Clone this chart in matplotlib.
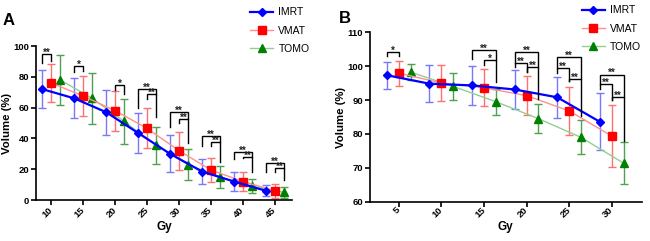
import matplotlib
matplotlib.use("Agg")
import matplotlib.pyplot as plt
import numpy as np

plt.rcParams['font.family'] = ['Liberation Sans', 'DejaVu Sans']

# Panel A data
dose_a = [10, 15, 20, 25, 30, 35, 40, 45]
imrt_a = [72, 66, 57, 43.5, 30, 18.5, 12, 6]
imrt_a_sd = [12.5, 13, 14.5, 13, 12, 8.3, 6, 3.7]
vmat_a = [76, 67.5, 58, 46.5, 32, 19.5, 12, 6]
vmat_a_sd = [12.3, 13, 13, 13, 12.5, 8, 6, 4.5]
tomo_a = [78, 66, 51, 35.5, 23, 15, 9, 5]
tomo_a_sd = [16, 16.5, 14.5, 12, 10, 7, 4.7, 3.5]

# Panel B data
dose_b = [5, 10, 15, 20, 25, 30]
imrt_b = [97.3, 94.8, 94.3, 93.1, 90.8, 83.6]
imrt_b_sd = [4, 5.5, 5.7, 5.8, 6, 8.4]
vmat_b = [97.9, 95, 93.6, 91.3, 86.8, 79.4]
vmat_b_sd = [3.7, 5.3, 5.5, 5.8, 7.1, 9]
tomo_b = [98.2, 94, 89.5, 84.5, 79, 71.4]
tomo_b_sd = [2.3, 4, 3.8, 4.3, 5, 6.2]

# significance: (dose, group1, group2, top, leg1 end, leg2 end, label)  groups 0=IMRT 1=VMAT 2=TOMO
sig_a = [(10, 0, 1, 94.6, 89, 90, '**'), (15, 0, 1, 87, 83.3, 84, '*'),
         (20, 1, 2, 74.7, 71.4, 68.8, '*'),
         (25, 0, 2, 71.9, 59.5, 68.6, '**'), (25, 1, 2, 68.6, 65.4, 53.7, '**'),
         (30, 0, 2, 57.3, 47.6, 52.6, '**'), (30, 1, 2, 52.6, 50.2, 36.8, '**'),
         (35, 0, 2, 41.6, 35.3, 37.9, '**'), (35, 1, 2, 37.9, 35.3, 24.9, '**'),
         (40, 0, 2, 31.4, 26.4, 28.1, '**'), (40, 1, 2, 28.1, 27.1, 18.4, '**'),
         (45, 0, 2, 24.2, 18.4, 21, '**'), (45, 1, 2, 21, 18.4, 13, '**')]
sig_b = [(5, 0, 1, 104.1, 102.9, 102.9, '*'),
         (15, 0, 2, 104.6, 102, 101.7, '**'), (15, 1, 2, 101.7, 100.2, 95.3, '*'),
         (20, 0, 2, 104.1, 101, 99.7, '**'), (20, 0, 1, 101, 99.6, 98.2, '**'),
         (20, 1, 2, 99.7, 98.2, 90.4, '**'),
         (25, 0, 2, 102.6, 99.5, 96.3, '**'), (25, 0, 1, 99.5, 98, 95.5, '**'),
         (25, 1, 2, 96.3, 95.5, 85.2, '**'),
         (30, 0, 2, 97.5, 94.8, 90.9, '**'), (30, 0, 1, 94.8, 93.3, 89.9, '**'),
         (30, 1, 2, 90.9, 89.9, 78, '**')]

off = [-1.4, 0, 1.4]
names = ['IMRT', 'VMAT', 'TOMO']
mk = ['D', 's', '^']
mcol = ['#0000ff', '#ff0000', '#008000']
lcol = ['#0000ff', '#ff9090', '#90d090']
ecol = ['#7878ff', '#ff7070', '#50a050']
lw = [1.6, 1.0, 1.0]
ms = [4.5, 5.5, 5.5]

fig = plt.figure(figsize=(6.5, 2.41), dpi=100)
axA = fig.add_axes([0.0554, 0.170, 0.394, 0.639])
axB = fig.add_axes([0.569, 0.162, 0.418, 0.705])


def panel(ax, dose, series, sds, sig, ylim, yticks, legpos):
    d = np.array(dose, dtype=float)
    handles = []
    for i in [2, 1, 0]:
        x = d + off[i]
        ax.errorbar(x, series[i], yerr=sds[i], fmt='none', ecolor=ecol[i],
                    elinewidth=1.0, capsize=2.8, capthick=1.0, zorder=2 + i * 0.1)
    for i in [2, 1, 0]:
        x = d + off[i]
        h, = ax.plot(x, series[i], color=lcol[i], lw=lw[i], zorder=3 + (2 - i),
                     marker=mk[i], ms=ms[i], mfc=mcol[i], mec=mcol[i], label=names[i])
        handles.append(h)
    for (g, a, b, top, y1, y2, lab) in sig:
        x1, x2 = g + off[a], g + off[b]
        ax.plot([x1, x1, x2, x2], [y1, top, top, y2], color='black', lw=1.0,
                zorder=6, solid_joinstyle='miter')
        ax.annotate(lab, ((x1 + x2) / 2, top), xytext=(0, -1.3),
                    textcoords='offset points', ha='center', va='baseline',
                    fontsize=7, fontweight='bold', color='#222222', zorder=7)
    ax.set_ylim(*ylim)
    ax.set_yticks(yticks)
    ax.set_xticks(dose)
    ax.set_xticklabels([str(v) for v in dose], rotation=45, ha='right',
                       va='center', rotation_mode='anchor')
    for s in ['top', 'right']:
        ax.spines[s].set_visible(False)
    for s in ['left', 'bottom']:
        ax.spines[s].set_linewidth(1.2)
    ax.tick_params(direction='out', length=3.5, width=1.2, labelsize=6.8, pad=1.5)
    for t in ax.get_xticklabels() + ax.get_yticklabels():
        t.set_fontweight('bold')
    ax.set_xlabel('Gy', fontsize=8.5, fontweight='bold', labelpad=1)
    ax.set_ylabel('Volume (%)', fontsize=8.2, fontweight='bold', labelpad=1)
    hs = handles[::-1]
    ax.legend(hs, names, loc='upper left', bbox_to_anchor=legpos,
              bbox_transform=fig.transFigure, frameon=False, fontsize=7.5,
              handlelength=2.2, labelspacing=0.8, handletextpad=0.5,
              borderaxespad=0, borderpad=0)


panel(axA, dose_a, [imrt_a, vmat_a, tomo_a], [imrt_a_sd, vmat_a_sd, tomo_a_sd],
      sig_a, (0, 100), [0, 20, 40, 60, 80, 100], (0.385, 0.97))
axA.set_xlim(7.6, 47.7)
axA.xaxis.set_tick_params(pad=3)

panel(axB, dose_b, [imrt_b, vmat_b, tomo_b], [imrt_b_sd, vmat_b_sd, tomo_b_sd],
      sig_b, (60, 110), [60, 70, 80, 90, 100, 110], (0.895, 0.978))
axB.set_xlim(1.6, 33.5)

fig.text(0.004, 0.913, 'A', fontsize=12, fontweight='bold', va='center')
fig.text(0.522, 0.923, 'B', fontsize=12, fontweight='bold', va='center')

fig.savefig('out.png', dpi=100)
